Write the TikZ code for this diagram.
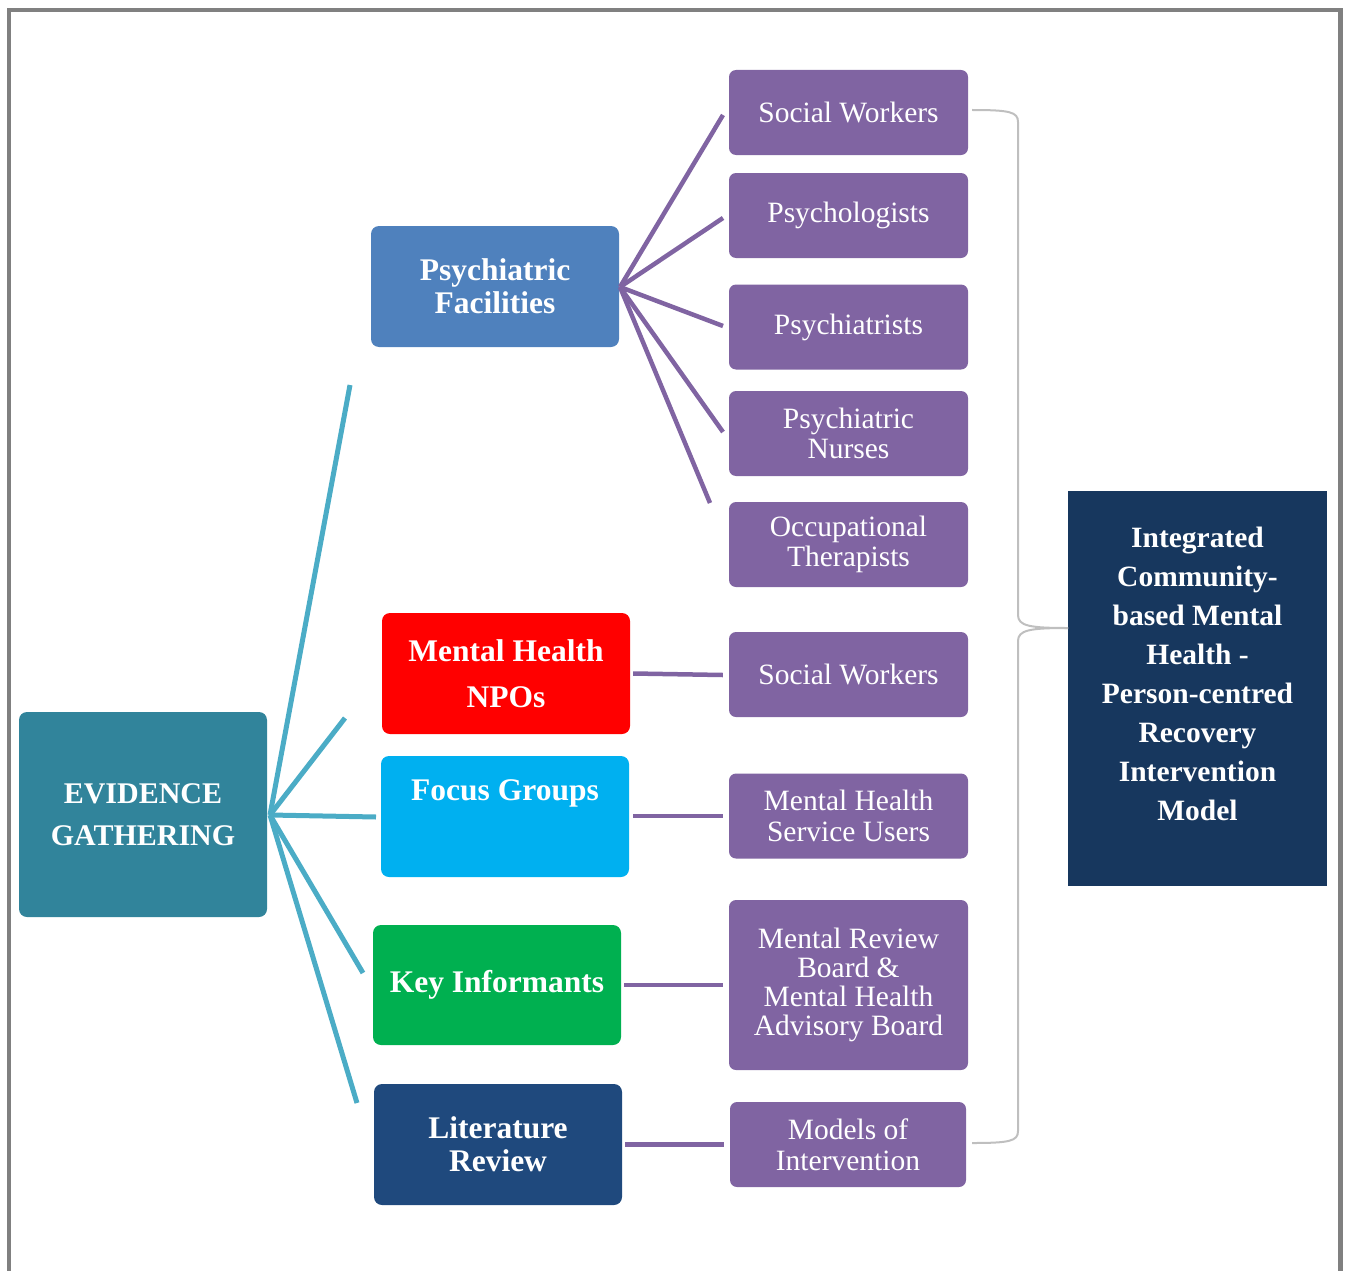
\documentclass[tikz,border=0pt]{standalone}
\usepackage{fontspec}
\setmainfont{Liberation Serif}
\definecolor{egteal}{HTML}{31849B}
\definecolor{pfblue}{HTML}{4F81BD}
\definecolor{npored}{HTML}{FF0000}
\definecolor{fgcyan}{HTML}{00B0F0}
\definecolor{kigreen}{HTML}{00B050}
\definecolor{lrnavy}{HTML}{1F497D}
\definecolor{roleviolet}{HTML}{8064A2}
\definecolor{modelnavy}{HTML}{17375E}
\definecolor{tealline}{HTML}{4BACC6}
\definecolor{braceg}{HTML}{BFBFBF}
\definecolor{frameg}{HTML}{808080}
\tikzset{
  catbox/.style={rectangle, rounded corners=8pt, draw=none, text=white, align=center,
    minimum width=248pt, minimum height=121pt, inner sep=0pt,
    font=\fontsize{31.5}{33}\selectfont\bfseries},
  rolebox/.style={rectangle, rounded corners=7pt, fill=roleviolet, text=white, align=center,
    minimum width=239pt, minimum height=85pt, inner sep=0pt,
    font=\fontsize{29.5}{30.5}\selectfont},
  tline/.style={draw=tealline, line width=5pt},
  pline/.style={draw=roleviolet, line width=4.5pt},
}
\begin{document}
\begin{tikzpicture}[x=1pt,y=-1pt]
\useasboundingbox (0,0) rectangle (1349,1271);
% frame
\draw[frameg, line width=4.5pt] (9,1275) -- (9,10) -- (1340.5,10) -- (1340.5,1275);

% left hub
\node[catbox, fill=egteal, minimum height=205pt, font=\fontsize{30}{42}\selectfont\bfseries] (eg) at (143,814.5) {EVIDENCE\\GATHERING};

% categories
\node[catbox, fill=pfblue] (pf) at (495,286.5) {Psychiatric\\Facilities};
\node[catbox, fill=npored, font=\fontsize{31.5}{46}\selectfont\bfseries] (npo) at (506,673.5) {Mental Health\\NPOs};
\node[catbox, fill=fgcyan, text height=44pt, text depth=77pt, minimum height=0pt] (fg) at (505,816.5) {Focus Groups};
\node[catbox, fill=kigreen, minimum height=120pt] (ki) at (497,985) {Key Informants};
\node[catbox, fill=lrnavy] (lr) at (498,1144.5) {Literature\\Review};

% roles
\node[rolebox] (sw1) at (848.5,112.5) {Social Workers};
\node[rolebox] (psyl) at (848.5,215.5) {Psychologists};
\node[rolebox] (psyt) at (848.5,327) {Psychiatrists};
\node[rolebox] (nurse) at (848.5,433.5) {Psychiatric\\Nurses};
\node[rolebox] (ot) at (848.5,544.5) {Occupational\\Therapists};
\node[rolebox] (sw2) at (848.5,674.5) {Social Workers};
\node[rolebox] (mhsu) at (848.5,816) {Mental Health\\Service Users};
\node[rolebox, minimum height=170pt, font=\fontsize{29.5}{29}\selectfont] (mrb) at (848.5,985) {Mental Review\\Board \&\\Mental Health\\Advisory Board};
\node[rolebox, minimum width=236pt] (moi) at (848,1144.5) {Models of\\Intervention};

% model box
\node[rectangle, fill=modelnavy, text=white, inner sep=0pt, minimum width=259pt, minimum height=395pt] (model) at (1197.5,688.5)
  {\parbox[c][395pt][t]{255pt}{\centering\fontsize{29.5}{39}\selectfont\bfseries\vspace*{36pt}Integrated\\Community-\\based Mental\\Health -\\Person-centred\\Recovery\\Intervention\\Model\par}};

% hub connectors
\coordinate (hub) at (270,815);
\coordinate (tpf) at (350,385);
\coordinate (tnpo) at (345,718);
\coordinate (tfg) at (376,817);
\coordinate (tki) at (363,973);
\coordinate (tlr) at (357,1103);
\draw[tline] (hub) -- (tpf);
\draw[tline] (hub) -- (tnpo);
\draw[tline] (hub) -- (tfg);
\draw[tline] (hub) -- (tki);
\draw[tline] (hub) -- (tlr);

% psychiatric facility fan
\coordinate (pfh) at (620,287);
\coordinate (e1) at (723,115);
\coordinate (e2) at (723,218);
\coordinate (e3) at (723,326);
\coordinate (e4) at (723,432);
\coordinate (e5) at (710,503);
\draw[pline] (pfh) -- (e1);
\draw[pline] (pfh) -- (e2);
\draw[pline] (pfh) -- (e3);
\draw[pline] (pfh) -- (e4);
\draw[pline] (pfh) -- (e5);

% straight connectors
\draw[pline] ([xshift=3pt]npo.east) -- ([xshift=-6pt]sw2.west |- 0,675);
\draw[pline] ([xshift=4pt]fg.east |- 0,816) -- ([xshift=-6pt]mhsu.west |- 0,816);
\draw[pline] ([xshift=3pt]ki.east) -- ([xshift=-6pt]mrb.west |- 0,985);
\draw[pline] ([xshift=3pt]lr.east) -- ([xshift=-6pt]moi.west |- 0,1144.5);

% brace
\coordinate (btip) at (1068,628);
\draw[braceg, line width=2pt] ([xshift=4pt]sw1.east |- 0,110) .. controls (1010,110) and (1018,112) .. (1018,122)
  -- (1018,615) .. controls (1018,626) and (1030,628) .. (btip);
\draw[braceg, line width=2pt] (btip) .. controls (1030,628) and (1018,630) .. (1018,641)
  -- (1018,1131) .. controls (1018,1141) and (1010,1143) .. ([xshift=6pt]moi.east |- 0,1143);
\end{tikzpicture}
\end{document}
